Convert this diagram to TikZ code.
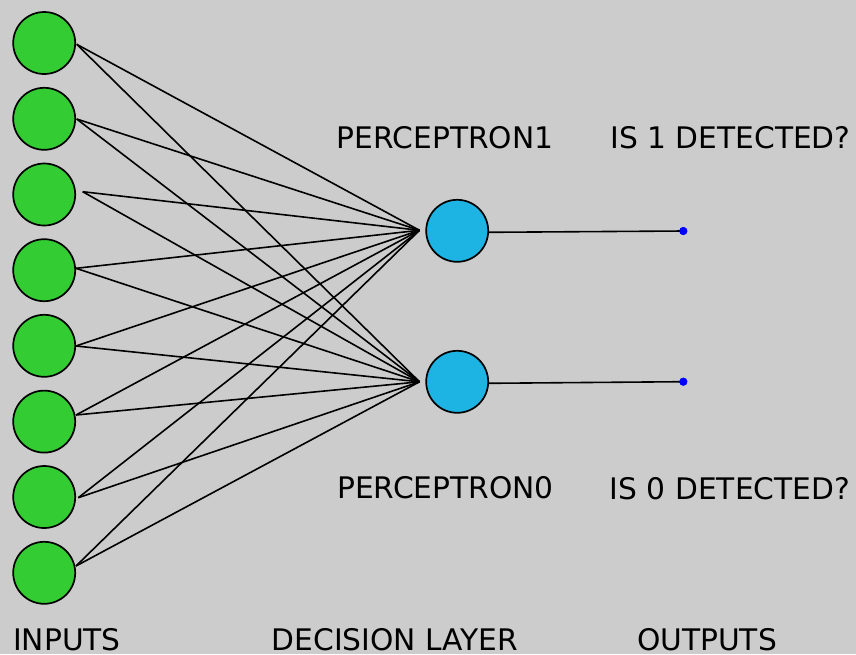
\documentclass[tikz,border=0pt]{standalone}
\usepackage{fontspec}
\setmainfont{DejaVu Sans}
\definecolor{bgc}{HTML}{CCCCCC}
\definecolor{ingreen}{HTML}{33CC33}
\definecolor{percblue}{HTML}{1DB3E3}
\definecolor{dotblue}{HTML}{0000FF}
\begin{document}
\begin{tikzpicture}[x=1pt,y=-1pt,
  inputnode/.style={circle,draw=black,line width=1.7pt,fill=ingreen,minimum size=62pt,inner sep=0pt},
  percnode/.style={circle,draw=black,line width=1.7pt,fill=percblue,minimum size=62pt,inner sep=0pt},
  wire/.style={draw=black,line width=1.6pt},
  outdot/.style={circle,fill=dotblue,minimum size=8pt,inner sep=0pt},
  lbl/.style={anchor=base,inner sep=0pt,font=\fontsize{29.7}{36}\selectfont}]
\fill[bgc] (0,0) rectangle (856,654);
\useasboundingbox (0,0) rectangle (856,654);
% input neurons
\node[inputnode] (i1) at (44.2,43) {};
\node[inputnode] (i2) at (44.2,118.8) {};
\node[inputnode] (i3) at (44.2,194.5) {};
\node[inputnode] (i4) at (44.2,270.2) {};
\node[inputnode] (i5) at (44.2,345.8) {};
\node[inputnode] (i6) at (44.2,421.6) {};
\node[inputnode] (i7) at (44.2,497) {};
\node[inputnode] (i8) at (44.2,572.8) {};
% wire start points
\coordinate (s1) at (76.7,44.3);
\coordinate (s2) at (76.7,119);
\coordinate (s3) at (82.7,191.7);
\coordinate (s4) at (76,268.3);
\coordinate (s5) at (76,346);
\coordinate (s6) at (76,415);
\coordinate (s7) at (78.3,497.7);
\coordinate (s8) at (76,566);
% convergence points
\coordinate (c1) at (419.5,230.3);
\coordinate (c0) at (419.5,381.8);
% perceptrons
\node[percnode] (p1) at (457.2,230.8) {};
\node[percnode] (p0) at (457.2,381.8) {};
% outputs
\node[outdot] (o1) at (683.3,231) {};
\node[outdot] (o0) at (683.3,381.7) {};
% wires
\foreach \k in {1,...,8} {
  \draw[wire] (s\k) -- (c1);
  \draw[wire] (s\k) -- (c0);
}
\coordinate (p1r) at (488.4,232.3);
\coordinate (p0r) at (488.4,383.3);
\draw[wire] (p1r) -- (o1.center);
\draw[wire] (p0r) -- (o0.center);
\node[outdot] at (o1) {};
\node[outdot] at (o0) {};
% labels
\node[lbl] (t1) at (445,148.3) {PERCEPTRON1};
\node[lbl] (t2) at (730.5,148.3) {IS 1 DETECTED?};
\node[lbl] (t3) at (445.5,498.5) {PERCEPTRON0};
\node[lbl] (t4) at (730,499) {IS 0 DETECTED?};
\node[lbl] (t5) at (67,650) {INPUTS};
\node[lbl] (t6) at (395,650) {DECISION LAYER};
\node[lbl] (t7) at (707,650) {OUTPUTS};
\end{tikzpicture}
\end{document}
